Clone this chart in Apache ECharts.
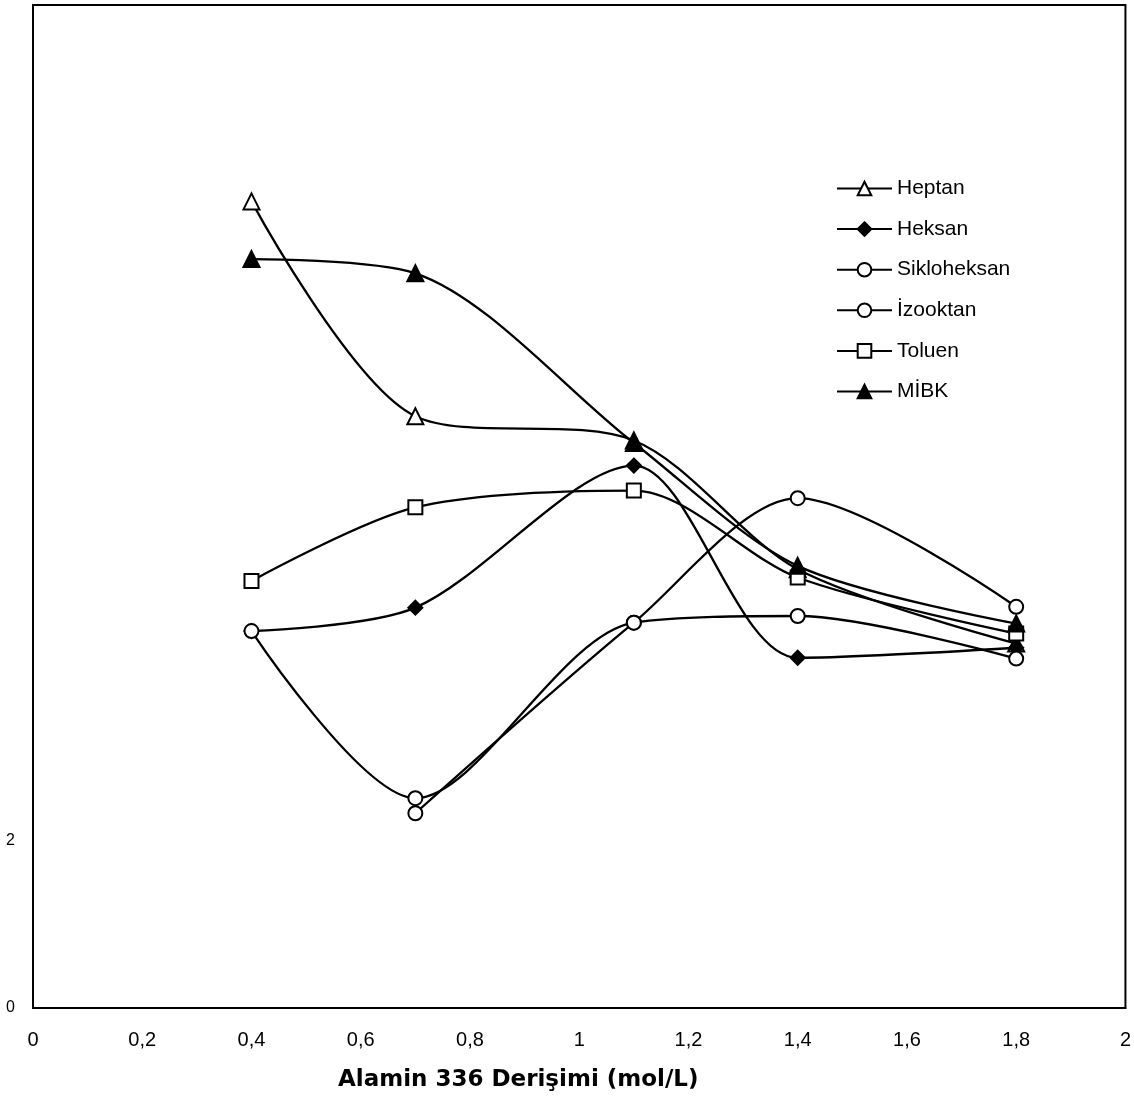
<!DOCTYPE html>
<html>
<head>
<meta charset="utf-8">
<script src="https://cdn.jsdelivr.net/npm/echarts@6/dist/echarts.min.js"></script>
<style>
  html, body { margin: 0; padding: 0; background: #ffffff; }
  #chart { width: 1134px; height: 1110px; }
</style>
</head>
<body>
<div id="chart"></div>
<script>
  // x values (mol/L) and series
  const xValues = [0.4, 0.7, 1.1, 1.4, 1.8];
  const heptan = [9.65, 7.08, 6.79, 5.25, 4.36];
  const heksan = [4.51, 4.79, 6.49, 4.19, 4.31];
  const sikloheksan = [4.51, 2.51, 4.61, 4.69, 4.18];
  const izooktan = [null, 2.33, 4.61, 6.10, 4.80];
  const toluen = [5.11, 5.99, 6.19, 5.15, 4.48];
  const mibk = [8.96, 8.79, 6.76, 5.29, 4.60];
  const yLabels = [0, 2];

  const pairs = (ys) => xValues.map((x, i) => [x, ys[i]]).filter((p) => p[1] !== null);

  const mkSeries = (name, data, symbol, size, fill) => ({
    name: name,
    type: 'line',
    data: pairs(data),
    smooth: 0.3,
    symbol: symbol,
    symbolSize: size,
    showAllSymbol: true,
    lineStyle: { color: '#000000', width: 2.3 },
    itemStyle: { color: fill, borderColor: '#000000', borderWidth: 2 },
    emphasis: { disabled: true },
  });

  const myChart = echarts.init(document.getElementById('chart'));
  myChart.setOption({
    animation: false,
    backgroundColor: '#ffffff',
    title: {
      text: 'Alamin 336 Derişimi (mol/L)',
      left: 333,
      top: 1064,
      textStyle: {
        fontFamily: 'DejaVu Sans',
        fontWeight: 'bold',
        fontSize: 23,
        color: '#000000',
      },
    },
    legend: {
      orient: 'vertical',
      left: 831,
      top: 173,
      itemWidth: 55,
      itemHeight: 17,
      itemGap: 19.6,
      textStyle: {
        fontFamily: 'Liberation Sans',
        fontSize: 21,
        lineHeight: 21,
        color: '#000000',
      },
      data: ['Heptan', 'Heksan', 'Sikloheksan', 'İzooktan', 'Toluen', 'MİBK'],
    },
    grid: {
      left: 33,
      right: 8,
      top: 5,
      bottom: 102,
      show: true,
      borderColor: '#000000',
      borderWidth: 2,
    },
    xAxis: {
      type: 'value',
      min: 0,
      max: 2,
      interval: 0.2,
      splitLine: { show: false },
      axisTick: { show: false },
      axisLine: { lineStyle: { color: '#000000', width: 2 } },
      axisLabel: {
        margin: 22,
        fontFamily: 'Liberation Sans',
        fontSize: 20,
        color: '#000000',
        formatter: (v) => String(Math.round(v * 10) / 10).replace('.', ','),
      },
    },
    yAxis: {
      type: 'value',
      min: 0,
      max: 12,
      interval: 2,
      splitLine: { show: false },
      axisTick: { show: false },
      axisLine: { show: true, lineStyle: { color: '#000000', width: 2 } },
      axisLabel: {
        margin: 18,
        fontFamily: 'Liberation Sans',
        fontSize: 16,
        color: '#000000',
        formatter: (v) => (yLabels.indexOf(v) >= 0 ? String(v) : ''),
      },
    },
    series: [
      mkSeries('Heptan', heptan, 'triangle', 16, '#ffffff'),
      mkSeries('Heksan', heksan, 'diamond', 14, '#000000'),
      mkSeries('Sikloheksan', sikloheksan, 'circle', 14, '#ffffff'),
      mkSeries('İzooktan', izooktan, 'circle', 14, '#ffffff'),
      mkSeries('Toluen', toluen, 'rect', 14, '#ffffff'),
      mkSeries('MİBK', mibk, 'triangle', 16, '#000000'),
    ],
  });

  window.addEventListener('resize', function () {
    myChart && myChart.resize();
  });
</script>
</body>
</html>
